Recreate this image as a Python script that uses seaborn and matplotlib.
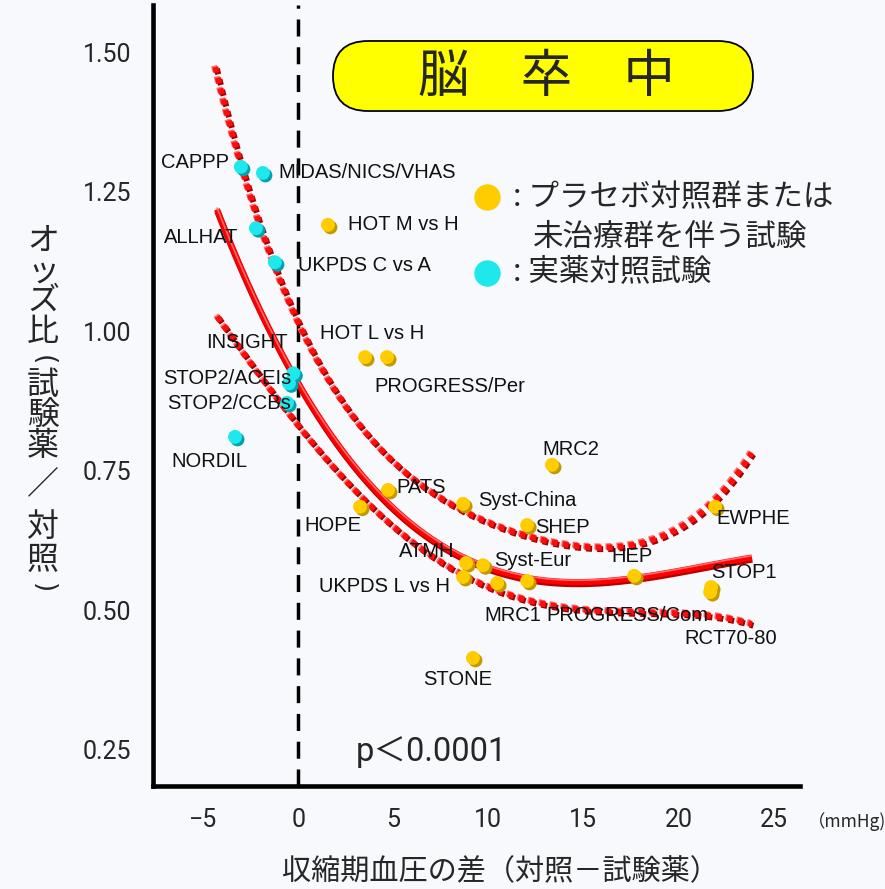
import numpy as np
import pandas as pd
import matplotlib
matplotlib.use("Agg")
import matplotlib.pyplot as plt
import matplotlib.transforms as mtransforms
from matplotlib.patches import FancyBboxPatch
from matplotlib.lines import Line2D
import seaborn as sns

# ---------------- data ----------------
placebo_trials = ["HOT M vs H", "HOT L vs H", "PROGRESS/Per", "MRC2", "PATS", "HOPE",
                  "Syst-China", "SHEP", "EWPHE", "ATMH", "Syst-Eur", "UKPDS L vs H",
                  "MRC1", "PROGRESS/Com", "HEP", "STOP1", "RCT70-80", "STONE"]
placebo_sbp_diff = [1.56, 3.51, 4.67, 13.35, 4.72, 3.25, 8.67, 12.04, 21.93, 8.83, 9.72,
                    8.67, 10.46, 12.04, 17.67, 21.72, 21.67, 9.19]
placebo_or = [1.191, 0.954, 0.954, 0.761, 0.716, 0.686, 0.691, 0.653, 0.686, 0.585, 0.581,
              0.560, 0.549, 0.553, 0.562, 0.542, 0.533, 0.415]

active_trials = ["CAPPP", "MIDAS/NICS/VHAS", "ALLHAT", "UKPDS C vs A", "INSIGHT",
                 "STOP2/ACEIs", "STOP2/CCBs", "NORDIL"]
active_sbp_diff = [-3.02, -1.86, -2.23, -1.23, -0.26, -0.49, -0.59, -3.33]
active_or = [1.295, 1.284, 1.185, 1.124, 0.925, 0.907, 0.872, 0.811]

# regression curve and confidence limits
fit_x = [-4.28, -2.02, -0.26, 1.30, 2.72, 4.83, 7.81, 11.84, 17.1, 20.6, 23.86]
fit_y = [1.226, 1.033, 0.925, 0.818, 0.770, 0.707, 0.608, 0.564, 0.552, 0.570, 0.599]
upper_x = [-4.37, -2.70, -0.07, 2.03, 4.85, 8.34, 12.72, 16.23, 18.67, 20.6, 21.83, 23.86]
upper_y = [1.472, 1.266, 1.026, 0.877, 0.775, 0.692, 0.620, 0.610, 0.638, 0.650, 0.698, 0.782]
lower_x = [-4.27, -0.26, 1.46, 3.07, 6.58, 10.09, 15.35, 18.86, 23.86]
lower_y = [1.024, 0.853, 0.775, 0.698, 0.608, 0.543, 0.507, 0.489, 0.477]

x_ticks = [-5, 0, 5, 10, 15, 20, 25]
y_ticks = [0.25, 0.50, 0.75, 1.00, 1.25, 1.50]

title_text = "脳　卒　中"
legend_placebo = [": プラセボ対照群または", "未治療群を伴う試験"]
legend_active = ": 実薬対照試験"
x_label = "収縮期血圧の差（対照－試験薬）"
y_label_chars = list("オッズ比(試験薬／対照)")
p_text = "p＜0.0001"
unit_text = "（mmHg)"

# ---------------- layout / style ----------------
BG = "#f7f9fd"
ORANGE = "#ffcc00"
ORANGE_SH = "#c29a00"
CYAN = "#1ee8ec"
CYAN_SH = "#00a3ad"

label_offsets = {  # pixel offsets of label left/center from the point
    "CAPPP": (-80, 4), "MIDAS/NICS/VHAS": (15, 0), "ALLHAT": (-92, -9),
    "UKPDS C vs A": (23, -3), "INSIGHT": (-87, 31), "STOP2/ACEIs": (-126, 5),
    "STOP2/CCBs": (-120, -1), "NORDIL": (-64, -25),
    "HOT M vs H": (20, 0), "HOT L vs H": (-45, 24), "PROGRESS/Per": (-13, -29),
    "MRC2": (-10, 15), "PATS": (8, 2), "HOPE": (-56, -19), "Syst-China": (15, 3),
    "SHEP": (8, -2), "EWPHE": (1, -12), "ATMH": (-67, 12), "Syst-Eur": (11, 5),
    "UKPDS L vs H": (-144, -10), "MRC1": (-13, -32), "PROGRESS/Com": (19, -35),
    "HEP": (-23, 19), "STOP1": (0, 15), "RCT70-80": (-26, -46), "STONE": (-50, -22),
}

sns.set_style("white")
plt.rcParams["font.family"] = ["Roboto", "Noto Sans CJK JP", "DejaVu Sans"]
plt.rcParams["axes.unicode_minus"] = True

df = pd.DataFrame({
    "trial": placebo_trials + active_trials,
    "sbp_diff": placebo_sbp_diff + active_sbp_diff,
    "odds_ratio": placebo_or + active_or,
    "type": ["placebo"] * len(placebo_trials) + ["active"] * len(active_trials),
})

fig = plt.figure(figsize=(8.85, 8.89), dpi=100, facecolor=BG)
ax = fig.add_axes([0.1732, 0.1162, 0.904 - 0.1732, 0.9944 - 0.1162])
ax.set_facecolor(BG)
ax.set_xlim(-7.63, 26.4)
ax.set_ylim(0.186, 1.585)


def shifted(dx, dy):
    return mtransforms.offset_copy(ax.transData, fig=fig, x=dx, y=dy, units="dots")


# zero line
ax.axvline(0, color="black", lw=2.5, dashes=(4.9, 3.1), zorder=1)

# curves
def smooth(xs, ys, deg=3, n=300):
    coef = np.polyfit(xs, ys, deg)
    xx = np.linspace(min(xs), max(xs), n)
    return xx, np.polyval(coef, xx)

cx, cy = smooth(fit_x, fit_y, 3)
ax.plot(cx, cy, color="#b80000", lw=4.6, solid_capstyle="butt", transform=shifted(0.5, -2), zorder=2)
ax.plot(cx, cy, color="#ff0000", lw=4.3, solid_capstyle="butt", zorder=2.1)
ax.plot(cx, cy, color="#ff6a6a", lw=1.2, solid_capstyle="butt", transform=shifted(0, 1.8), zorder=2.2)

for bx, by in [(upper_x, upper_y), (lower_x, lower_y)]:
    xx, yy = smooth(bx, by, 4)
    ax.plot(xx, yy, color="#ff7070", lw=4.3, dashes=(1.0, 0.85), dash_capstyle="butt",
            transform=shifted(-1.2, 1.2), zorder=2)
    ax.plot(xx, yy, color="#a00000", lw=4.3, dashes=(1.0, 0.85), dash_capstyle="butt",
            transform=shifted(1.6, -1.6), zorder=2.05)
    ax.plot(xx, yy, color="#ff0d0d", lw=4.3, dashes=(1.0, 0.85), dash_capstyle="butt", zorder=2.1)

# points: shadow then body
for t, col in [("placebo", ORANGE_SH), ("active", CYAN_SH)]:
    sub = df[df["type"] == t]
    ax.scatter(sub["sbp_diff"], sub["odds_ratio"], s=100, color=col, edgecolor="none",
               transform=shifted(2.5, -2.5), zorder=4)
sns.scatterplot(data=df, x="sbp_diff", y="odds_ratio", hue="type",
                palette={"placebo": ORANGE, "active": CYAN}, s=100, edgecolor="none",
                legend=False, ax=ax, zorder=5)

# trial labels
for _, r in df.iterrows():
    dx, dy = label_offsets[r["trial"]]
    ax.annotate(r["trial"], (r["sbp_diff"], r["odds_ratio"]), xytext=(dx, dy),
                textcoords="offset pixels", ha="left", va="center",
                fontsize=14.5, family=["Liberation Sans", "DejaVu Sans"], color="#111111",
                zorder=6)

# axes styling
for s in ["top", "right"]:
    ax.spines[s].set_visible(False)
for s in ["left", "bottom"]:
    ax.spines[s].set_linewidth(3.3)
    ax.spines[s].set_color("black")
ax.set_xticks(x_ticks)
ax.set_yticks(y_ticks)
ax.set_yticklabels([f"{v:.2f}" for v in y_ticks])
ax.tick_params(axis="both", direction="out", length=9, width=2.2, color="black",
               labelsize=18, pad=7)
ax.set_xlabel(x_label, fontsize=21, family=["Noto Sans CJK JP", "DejaVu Sans"], va="center")
ax.xaxis.set_label_coords(0.536, -0.1105)
ax.set_ylabel("")

# vertical y label (brackets turned for vertical writing)
ylab_pos = [241, 272, 301, 332, 360, 385, 415, 446, 484, 527, 560, 588]
for ch, ypx in zip(y_label_chars, ylab_pos):
    if ch in "()":
        fig.text(43 / 885, 1 - ypx / 889, ch, ha="center", va="center", fontsize=19,
                 rotation=-90, family=["DejaVu Sans"])
    else:
        fig.text(43 / 885, 1 - ypx / 889, ch, ha="center", va="center", fontsize=23,
                 family=["Noto Sans CJK JP", "DejaVu Sans"])

# title box
box = FancyBboxPatch((3.33, 7.78), 4.20, 0.70, boxstyle="round,pad=0,rounding_size=0.35",
                     transform=fig.dpi_scale_trans, facecolor="#ffff00", edgecolor="black",
                     lw=1.3, zorder=10)
fig.add_artist(box)
fig.text(5.46, 8.12, title_text, transform=fig.dpi_scale_trans, ha="center", va="center",
         fontsize=37, family=["Noto Sans CJK JP", "DejaVu Sans"], zorder=11)

# legend
fig.add_artist(Line2D([487 / 885], [1 - 197 / 889], marker="o", markersize=19, color=ORANGE,
                      markeredgewidth=0, transform=fig.transFigure))
fig.add_artist(Line2D([487 / 885], [1 - 273 / 889], marker="o", markersize=19, color=CYAN,
                      markeredgewidth=0, transform=fig.transFigure))
cjk = ["Noto Sans CJK JP", "DejaVu Sans"]
fig.text(513 / 885, 1 - 198 / 889, legend_placebo[0], ha="left", va="center", fontsize=22, family=cjk)
fig.text(533 / 885, 1 - 237 / 889, legend_placebo[1], ha="left", va="center", fontsize=22, family=cjk)
fig.text(513 / 885, 1 - 273 / 889, legend_active, ha="left", va="center", fontsize=22, family=cjk)

# p value and unit
fig.text(356 / 885, 1 - 752 / 889, p_text, ha="left", va="center", fontsize=23.5,
         family=["Roboto", "Noto Sans CJK JP"])
fig.text(808 / 885, 1 - 822 / 889, unit_text, ha="left", va="center", fontsize=12.5, family=cjk)

fig.savefig("out.png", dpi=100, facecolor=BG)
